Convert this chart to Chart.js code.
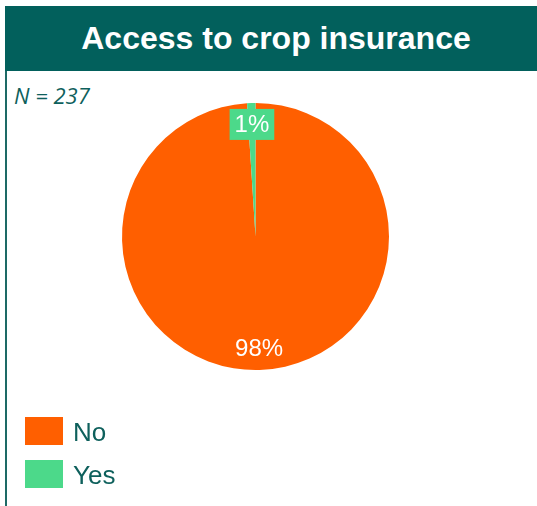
<!DOCTYPE html>
<html>
<head>
<meta charset="utf-8">
<script src="https://cdn.jsdelivr.net/npm/chart.js@4"></script>
<style>
  html, body { margin: 0; padding: 0; background: #fff; }
  body { width: 537px; height: 506px; position: relative; overflow: hidden; }
  .title-bar {
    position: absolute; left: 5px; top: 6px; width: 542px; height: 65px;
    background: #02605C; color: #fff; text-align: center;
    font: bold 32px "Liberation Sans", Arial, sans-serif; line-height: 65px;
  }
  .frame-left { position: absolute; left: 5px; top: 71px; width: 2px; height: 435px; background: #1D6A66; }
  .n-note {
    position: absolute; left: 14px; top: 84px; color: #0E605C;
    font: italic 22px "Open Sans", sans-serif; line-height: 22px;
  }
  #chart { position: absolute; left: 0; top: 0; }
</style>
</head>
<body>
<div class="title-bar">Access to crop insurance</div>
<div class="frame-left"></div>
<div class="n-note">N = 237</div>
<canvas id="chart" width="537" height="506"></canvas>
<script>
// Share of respondents with access to crop insurance (percent)
const categories = ['No', 'Yes'];
const shares = [98, 1];
const sliceColors = ['#FF5F00', '#4CD98A'];

const textTeal = '#0E605C';

// Percentage labels placed inside each slice; slices too thin for the
// text get a filled box in the slice colour behind the label.
const sliceLabels = {
  id: 'sliceLabels',
  afterDatasetsDraw(chart) {
    const ctx = chart.ctx;
    const meta = chart.getDatasetMeta(0);
    ctx.save();
    ctx.font = '24px "Liberation Sans", Arial, sans-serif';
    ctx.textAlign = 'center';
    ctx.textBaseline = 'middle';
    meta.data.forEach((arc, i) => {
      const p = arc.getProps(['x', 'y', 'startAngle', 'endAngle', 'outerRadius'], true);
      const mid = (p.startAngle + p.endAngle) / 2;
      const r = p.outerRadius * 0.84;
      const x = p.x + Math.cos(mid) * r;
      const y = p.y + Math.sin(mid) * r;
      const text = shares[i] + '%';
      if (p.endAngle - p.startAngle < 0.2) {
        const w = ctx.measureText(text).width + 10;
        ctx.fillStyle = sliceColors[i];
        ctx.fillRect(x - w / 2, y - 15.5, w, 31);
      }
      ctx.fillStyle = '#fff';
      ctx.fillText(text, x, y + 1);
    });
    ctx.restore();
  }
};

// Vertical legend in the lower-left corner, built from the chart's own legend items
const cornerLegend = {
  id: 'cornerLegend',
  afterDraw(chart) {
    const ctx = chart.ctx;
    const items = Chart.overrides.pie.plugins.legend.labels.generateLabels(chart);
    ctx.save();
    ctx.font = '26px "Liberation Sans", Arial, sans-serif';
    ctx.textBaseline = 'middle';
    items.forEach((item, i) => {
      const top = 417 + i * 43;
      ctx.fillStyle = item.fillStyle;
      ctx.fillRect(25, top, 38, 28);
      ctx.fillStyle = textTeal;
      ctx.fillText(item.text, 73, top + 17);
    });
    ctx.restore();
  }
};

new Chart(document.getElementById('chart'), {
  type: 'pie',
  data: {
    labels: categories,
    datasets: [{
      data: shares,
      backgroundColor: sliceColors,
      borderWidth: 0
    }]
  },
  options: {
    responsive: false,
    animation: false,
    layout: { padding: { left: 122, top: 103, right: 148, bottom: 136 } },
    plugins: {
      legend: { display: false },
      tooltip: { enabled: false },
      title: { display: false }
    }
  },
  plugins: [sliceLabels, cornerLegend]
});
</script>
</body>
</html>
